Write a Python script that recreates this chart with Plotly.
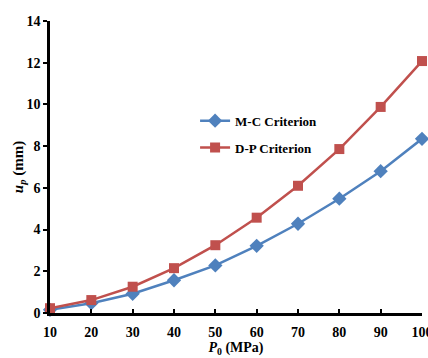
import plotly.graph_objects as go

pressure = [10, 20, 30, 40, 50, 60, 70, 80, 90, 100]
mc_values = [0.15, 0.47, 0.92, 1.57, 2.28, 3.22, 4.28, 5.48, 6.8, 8.35]
dp_values = [0.23, 0.62, 1.26, 2.15, 3.25, 4.57, 6.1, 7.86, 9.88, 12.08]
x_ticks = [10, 20, 30, 40, 50, 60, 70, 80, 90, 100]
y_ticks = [0, 2, 4, 6, 8, 10, 12, 14]

font_family = "Liberation Serif"

fig = go.Figure()
fig.add_trace(go.Scatter(
    x=pressure, y=mc_values, mode="lines+markers", name="<b>M-C Criterion</b>",
    legendgroup="mc",
    line=dict(color="#4F81BD", width=2.5),
    marker=dict(symbol="diamond", size=11, color="#4F81BD"),
))
fig.add_trace(go.Scatter(
    x=pressure, y=dp_values, mode="lines+markers", name="<b>D-P Criterion</b>",
    legendgroup="dp",
    line=dict(color="#C0504D", width=2.5),
    marker=dict(symbol="square", size=10, color="#C0504D"),
))

axis_common = dict(
    showline=True, linecolor="black", linewidth=2.5, mirror=False,
    tickcolor="black", tickwidth=2, ticklen=4,
    showgrid=False, zeroline=False, automargin=False,
    tickfont=dict(family=font_family, size=14, color="black"),
)

fig.update_layout(
    width=428, height=358,
    margin=dict(l=50, r=6, t=21, b=45),
    paper_bgcolor="white", plot_bgcolor="white",
    font=dict(family=font_family, color="black", size=14),
    xaxis=dict(range=[10, 100], tickvals=x_ticks, ticks="inside",
               ticklabeloverflow="allow", ticklabelstandoff=4,
               ticktext=["<b>%d</b>" % v for v in x_ticks],
               title=dict(text="<b><i>P</i><sub>0</sub> (MPa)</b>", font=dict(size=14, family=font_family), standoff=4),
               **axis_common),
    yaxis=dict(range=[0, 14], tickvals=y_ticks, ticks="outside",
               ticktext=["<b>%d</b>" % v for v in y_ticks],
               title=dict(text="<b><i>u<sub>p</sub></i> (mm)</b>", font=dict(size=15, family=font_family), standoff=0),
               **axis_common),
    legend=dict(x=0.39, y=0.71, xanchor="left", yanchor="top", bgcolor="rgba(0,0,0,0)",
                font=dict(family=font_family, size=13, color="black"), itemwidth=30,
                tracegroupgap=7),
    showlegend=True,
)
fig.update_traces(cliponaxis=False)

fig.write_html("out.html")
